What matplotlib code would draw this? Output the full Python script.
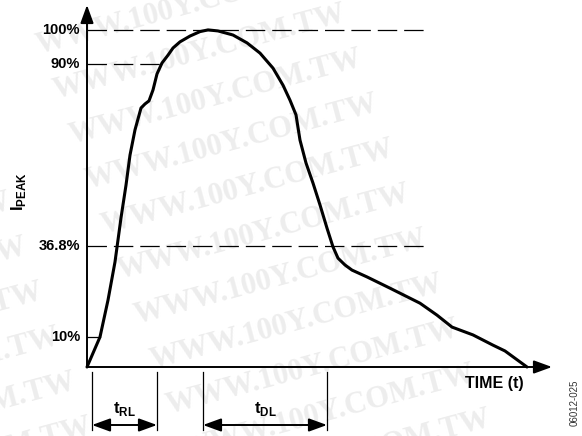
import matplotlib
matplotlib.use('Agg')
import matplotlib.pyplot as plt

plt.rcParams['font.family'] = 'Liberation Sans'
plt.rcParams['mathtext.fontset'] = 'custom'
plt.rcParams['mathtext.bf'] = 'Liberation Sans:bold'
plt.rcParams['mathtext.rm'] = 'Liberation Sans'
plt.rcParams['lines.scale_dashes'] = False

# waveform (time in arbitrary units, current in % of peak)
time = [0, 13, 21, 28, 34, 39, 43, 48, 54, 58, 62, 66, 70, 75, 81, 86, 93, 103,
        113, 121, 131, 146, 160, 173, 186, 196, 203, 209, 213, 219, 226, 233,
        240, 246, 251, 258, 265, 280, 303, 333, 350, 365, 386, 406, 418, 440]
ipeak = [1.2, 10.0, 20.8, 32.0, 44.9, 54.5, 63.3, 70.7, 77.1, 78.3, 79.2, 82.4,
         87.1, 90.3, 92.6, 94.7, 96.5, 98.2, 99.5, 100.0, 99.7, 98.5, 96.2, 93.2,
         88.8, 83.8, 79.4, 75.1, 67.7, 61.0, 55.1, 48.7, 41.9, 36.4, 33.1, 31.1,
         29.6, 27.6, 24.3, 19.9, 16.4, 12.9, 10.6, 7.6, 5.9, 1.2]

levels = [100, 90, 36.8, 10]
level_labels = ['100%', '90%', '36.8%', '10%']
level_ends = [340, 75, 340, 13]

t_rl = (5, 70)
t_dl = (116, 240)

fig = plt.figure(figsize=(5.82, 4.36), dpi=100)

# faint watermark
for k in range(11):
    cy = 8 + 45 * k
    cx = 183 + 0.36 * (cy - 8)
    for dx, dy in [(0, 0), (-367, 98)]:
        fig.text((cx + dx) / 582, 1 - (cy + dy) / 436, 'WWW.100Y.COM.TW',
                 rotation=15, rotation_mode='anchor', ha='center', va='center',
                 family='Liberation Serif', weight='bold', size=22,
                 color='#ededed', zorder=-1)

ax = fig.add_axes([87 / 582, 69 / 436, 465 / 582, 362 / 436])
ax.set_xlim(0, 465)
ax.set_ylim(1.2, 107.3)
ax.axis('off')

ax.plot(time, ipeak, color='k', lw=2.2, solid_joinstyle='round',
        solid_capstyle='round', clip_on=False, zorder=5)

head = '-|>,head_length=0.55,head_width=0.2'
ax.annotate('', xy=(0, 107.3), xytext=(0, 1.2), annotation_clip=False,
            arrowprops=dict(arrowstyle=head, mutation_scale=20, lw=1.4,
                            color='k', shrinkA=0, shrinkB=0))
ax.annotate('', xy=(465, 1.2), xytext=(0, 1.2), annotation_clip=False,
            arrowprops=dict(arrowstyle=head, mutation_scale=20, lw=1.4,
                            color='k', shrinkA=0, shrinkB=0))

for lvl, lab, end in zip(levels, level_labels, level_ends):
    if lvl == 10:
        ax.plot([0, end], [lvl, lvl], color='k', lw=0.9)
    else:
        ax.plot([0, end], [lvl, lvl], color='k', lw=0.9, dashes=(14, 5))
    ax.text(-7, lvl, lab, ha='right', va='center', fontsize=10.5,
            fontweight='bold', clip_on=False)

ax.text(-68, 52.5, r'$\mathbf{I}_{\mathbf{PEAK}}$', rotation=90,
        ha='center', va='center', fontsize=12)
ax.text(407, -3.6, 'TIME (t)', ha='center', va='center', fontsize=11.5,
        fontweight='bold')

dbl = '<|-|>,head_length=0.55,head_width=0.2'
for (a, b), lab in [(t_rl, r'$\mathbf{t}_{\mathbf{RL}}$'),
                    (t_dl, r'$\mathbf{t}_{\mathbf{DL}}$')]:
    for xv in (a, b):
        ax.plot([xv, xv], [-0.3, -17.3], color='k', lw=0.9, clip_on=False)
    ax.annotate('', xy=(b, -15.8), xytext=(a, -15.8), annotation_clip=False,
                arrowprops=dict(arrowstyle=dbl, mutation_scale=20, lw=1.4,
                                color='k', shrinkA=0, shrinkB=0))
    ax.text((a + b) / 2, -11.0, lab, ha='center', va='center', fontsize=12)

fig.text(575 / 582, 1 - 403 / 436, '06012-025', rotation=90, ha='center',
         va='center', fontsize=7, color='#333333')

fig.savefig('out.png', dpi=100)
